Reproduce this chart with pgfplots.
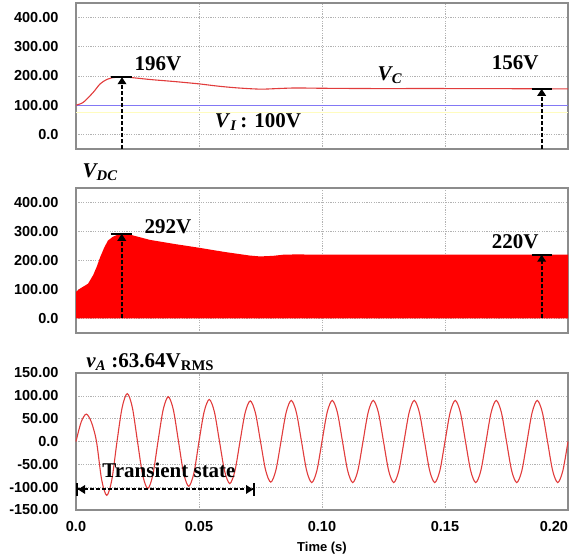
\documentclass[border=0pt]{standalone}
\usepackage{pgfplots}
\pgfplotsset{compat=1.18}
\usepackage{fontspec}
\setmainfont{Liberation Serif}
\newfontfamily\arial{Liberation Sans}
\usetikzlibrary{arrows.meta}
\definecolor{curvered}{RGB}{225,60,60}
\definecolor{fillred}{RGB}{255,0,0}
\definecolor{vblue}{RGB}{130,120,245}
\definecolor{framegray}{RGB}{140,140,140}
\pgfplotsset{
 panel/.style={
   scale only axis, width=492pt, anchor=north west,
   xmin=0, xmax=0.2, xtick={0,0.05,0.1,0.15,0.2},
   grid=major, grid style={gray!60, dash pattern=on 1.2pt off 1.2pt, line width=0.6pt},
   axis line style={framegray, line width=1.2pt},
   major tick length=0pt,
   ticklabel style={font=\arial\bfseries\fontsize{14.5}{15}\selectfont},
   yticklabel style={xshift=-14pt},
   clip=false,
 },
}
\tikzset{
 ann/.style={font=\bfseries\fontsize{21}{22}\selectfont},
 darr/.style={line width=2pt, dash pattern=on 4pt off 2pt, -{Triangle[length=7pt,width=8.5pt]}},
 bar/.style={line width=2pt},
}
\begin{document}
\begin{tikzpicture}
\useasboundingbox (0,0) rectangle (569pt,555pt);
% ---------- panel 1 ----------
\begin{axis}[panel, at={(76pt,552pt)}, height=146pt, ymin=-50, ymax=450,
  ytick={0,100,200,300,400}, yticklabels={0.0,100.00,200.00,300.00,400.00},
  xticklabels={}]
\addplot[yellow!25, line width=0.8pt] coordinates {(0,76)(0.2,76)};
\addplot[color=vblue, line width=1.1pt] coordinates {(0,100)(0.2,100)};
\addplot[curvered, line width=1.1pt, smooth] coordinates {
(0,100)(0.003,110)(0.007,144)(0.0098,173)(0.0125,188)(0.0146,194)(0.018,196)
(0.022,195)(0.0301,188)(0.04,181)(0.05,173)(0.058,165)(0.066,159)(0.075,155)
(0.082,157)(0.0894,159)(0.1,158)(0.12,157)(0.15,157)(0.2,156)};
\draw[darr] (0.0187,-50) -- (0.0187,196);
\draw[bar] (0.0142,196) -- (0.0228,196);
\node[ann] at (0.0333,241) {196V};
\draw[darr] (0.1893,-50) -- (0.1893,156);
\draw[bar] (0.1852,156) -- (0.1933,156);
\node[ann] at (0.1785,244) {156V};
\node[ann, font=\bfseries\itshape\fontsize{21}{22}\selectfont] at (0.1276,203) {V\textsubscript{C}};
\node[ann] at (0.074,42) {\textit{V}\textsubscript{\textit{I}}\,: 100V};
\end{axis}
% ---------- panel 2 ----------
\begin{axis}[panel, at={(76pt,367pt)}, height=145pt, ymin=-50, ymax=450,
  ytick={0,100,200,300,400}, yticklabels={0.0,100.00,200.00,300.00,400.00},
  xticklabels={}]
\addplot[fill=fillred, draw=none] coordinates {
(0,0)(0,92)(0.0016,103)(0.0049,120)(0.007,150)(0.0085,180)(0.0098,211)(0.0115,245)
(0.013,269)(0.015,282)(0.0175,291)(0.019,292)(0.022,289)(0.0301,271)(0.04,257)
(0.05,244)(0.06,230)(0.0707,217)(0.0748,214)(0.08,216)(0.0843,220)(0.0894,221)
(0.1,220)(0.15,220)(0.2,220)(0.2,0)} -- cycle;
\draw[darr] (0.0186,0) -- (0.0186,292);
\draw[bar] (0.0141,292) -- (0.0227,292);
\node[ann] at (0.0374,317) {292V};
\draw[darr] (0.1893,0) -- (0.1893,220);
\draw[bar] (0.1852,220) -- (0.1933,220);
\node[ann] at (0.1785,265) {220V};
\node[ann, font=\bfseries\itshape\fontsize{21}{22}\selectfont] at (0.0098,505) {V\textsubscript{DC}};
\end{axis}
% ---------- panel 3 ----------
\begin{axis}[panel, at={(76pt,182pt)}, height=137pt, ymin=-150, ymax=150,
  ytick={-150,-100,-50,0,50,100,150},
  yticklabels={-150.00,-100.00,-50.00,0.0,50.00,100.00,150.00},
  xticklabels={0.0,0.05,0.10,0.15,\makebox[0pt][r]{0.20}},
  xticklabel style={yshift=-8pt},
  xlabel={Time (s)}, xlabel style={font=\arial\bfseries\fontsize{13}{14}\selectfont, yshift=-3pt}]
\addplot[curvered, line width=1.1pt, smooth] coordinates {
(0,0)(0.00208,42.4)(0.00417,60)(0.00625,42.4)(0.00833,0)(0.01042,-83.4)(0.0125,-118)(0.01458,-83.4)
(0.01667,0)(0.01875,74.2)(0.02083,105)(0.02292,74.2)(0.025,0)(0.02708,-72.8)(0.02917,-103)(0.03125,-72.8)
(0.03333,0)(0.03542,69.3)(0.0375,98)(0.03958,69.3)(0.04167,0)(0.04375,-69.3)(0.04583,-98)(0.04792,-69.3)
(0.05,0)(0.05208,65)(0.05417,92)(0.05625,65)(0.05833,0)(0.06042,-65)(0.0625,-92)(0.06458,-65)
(0.06667,0)(0.06875,62.9)(0.07083,89)(0.07292,62.9)(0.075,0)(0.07708,-62.9)(0.07917,-89)(0.08125,-62.9)
(0.08333,0)(0.08542,63.6)(0.0875,90)(0.08958,63.6)(0.09167,0)(0.09375,-63.6)(0.09583,-90)(0.09792,-63.6)
(0.1,0)(0.10208,63.6)(0.10417,90)(0.10625,63.6)(0.10833,0)(0.11042,-63.6)(0.1125,-90)(0.11458,-63.6)
(0.11667,0)(0.11875,63.6)(0.12083,90)(0.12292,63.6)(0.125,0)(0.12708,-63.6)(0.12917,-90)(0.13125,-63.6)
(0.13333,0)(0.13542,63.6)(0.1375,90)(0.13958,63.6)(0.14167,0)(0.14375,-63.6)(0.14583,-90)(0.14792,-63.6)
(0.15,0)(0.15208,63.6)(0.15417,90)(0.15625,63.6)(0.15833,0)(0.16042,-63.6)(0.1625,-90)(0.16458,-63.6)
(0.16667,0)(0.16875,63.6)(0.17083,90)(0.17292,63.6)(0.175,0)(0.17708,-63.6)(0.17917,-90)(0.18125,-63.6)
(0.18333,0)(0.18542,63.6)(0.1875,90)(0.18958,63.6)(0.19167,0)(0.19375,-63.6)(0.19583,-90)(0.19792,-63.6)
(0.2,0)};
\node[ann, anchor=west, font=\bfseries\fontsize{21}{22}\selectfont] at (0.0028,174) {\textit{v}\textsubscript{\textit{A}} :63.64V\textsubscript{RMS}};
\node[ann] at (0.0378,-63) {Transient state};
\draw[line width=2pt, dash pattern=on 4pt off 2pt, {Bar[width=13pt]Triangle[length=7pt,width=8.5pt]}-{Triangle[length=7pt,width=8.5pt]Bar[width=13pt]}] (0,-105) -- (0.0728,-105);
\end{axis}
\end{tikzpicture}
\end{document}
